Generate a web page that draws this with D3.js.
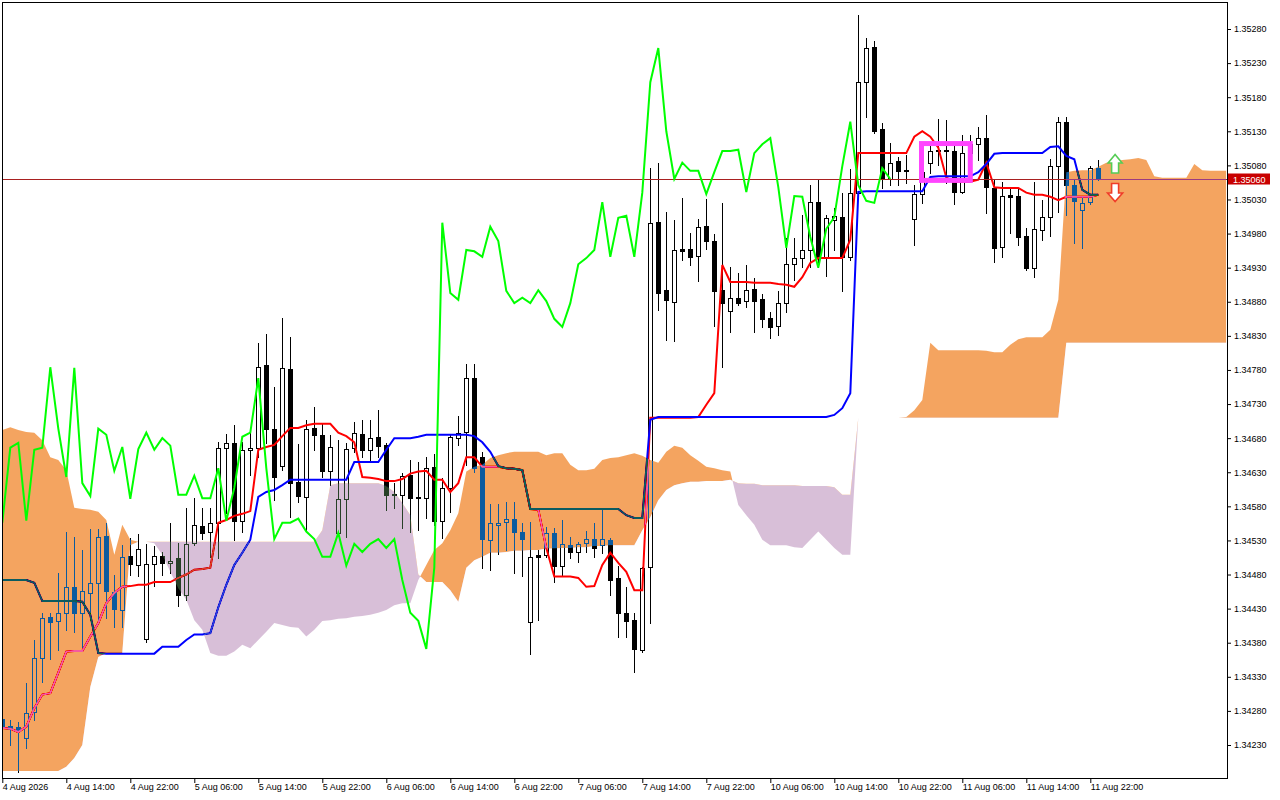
<!DOCTYPE html>
<html><head><meta charset="utf-8">
<script src="https://cdn.jsdelivr.net/npm/d3@7"></script>
<style>
html,body{margin:0;padding:0;background:#fff;}
svg{display:block;}
</style>
</head><body>
<svg id="c" width="1280" height="800"></svg>
<script>
// ---------- DATA (H1 candles) ----------
const openP=[
1.34268,1.34258,1.34257,1.34240,1.34279,1.34358,1.34418,1.34412,1.34424,1.34462,
1.34424,1.34453,1.34468,1.34537,1.34455,1.34428,1.34507,1.34494,1.34386,1.34496,
1.34507,1.34497,1.34504,1.34450,1.34526,1.34551,1.34543,1.34556,1.34666,1.34673,
1.34559,1.34663,1.34666,1.34787,1.34694,1.34639,1.34781,1.34616,1.34594,1.34695,
1.34685,1.34632,1.34541,1.34591,1.34666,1.34686,1.34663,1.34682,1.34670,1.34598,
1.34597,1.34626,1.34594,1.34592,1.34638,1.34559,1.34607,1.34680,1.34689,1.34768,
1.34652,1.34531,1.34553,1.34557,1.34562,1.34543,1.34411,1.34509,1.34509,1.34541,
1.34493,1.34523,1.34513,1.34526,1.34532,1.34523,1.34531,1.34475,1.34424,1.34413,
1.34369,1.34491,1.34997,1.34897,1.34880,1.34957,1.34957,1.34947,1.34991,1.34969,
1.34897,1.34867,1.34886,1.34881,1.34899,1.34884,1.34856,1.34845,1.34878,1.34935,
1.34944,1.34956,1.35026,1.34946,1.35000,1.35004,1.34946,1.35040,1.35202,1.35254,
1.35133,1.35060,1.35086,1.35073,1.35001,1.35038,1.35084,1.35103,1.35101,1.35101,
1.35041,1.35098,1.35111,1.35120,1.35047,1.34960,1.35037,1.35035,1.34977,1.34930,
1.34985,1.35004,1.35079,1.35144,1.35051,1.35015,1.35026,1.35076];
const highP=[
1.34274,1.34267,1.34264,1.34321,1.34384,1.34424,1.34424,1.34482,1.34543,1.34535,
1.34516,1.34547,1.34547,1.34556,1.34480,1.34523,1.34534,1.34540,1.34525,1.34522,
1.34513,1.34556,1.34526,1.34578,1.34592,1.34578,1.34578,1.34674,1.34686,1.34699,
1.34674,1.34689,1.34820,1.34833,1.34755,1.34856,1.34828,1.34671,1.34707,1.34726,
1.34702,1.34685,1.34677,1.34673,1.34704,1.34707,1.34707,1.34721,1.34673,1.34614,
1.34629,1.34648,1.34645,1.34652,1.34657,1.34622,1.34685,1.34713,1.34789,1.34789,
1.34660,1.34584,1.34584,1.34587,1.34587,1.34556,1.34557,1.34516,1.34550,1.34548,
1.34560,1.34535,1.34528,1.34544,1.34556,1.34575,1.34534,1.34493,1.34462,1.34424,
1.34491,1.35076,1.35084,1.35012,1.35000,1.35032,1.34981,1.35001,1.35031,1.34979,
1.35025,1.34931,1.34922,1.34934,1.34915,1.34891,1.34865,1.34896,1.34974,1.34974,
1.35007,1.35051,1.35060,1.35007,1.35018,1.35040,1.35075,1.35301,1.35267,1.35262,
1.35142,1.35113,1.35092,1.35095,1.35051,1.35072,1.35108,1.35148,1.35147,1.35113,
1.35125,1.35125,1.35136,1.35154,1.35059,1.35056,1.35047,1.35047,1.34988,1.35056,
1.35029,1.35089,1.35151,1.35151,1.35059,1.35034,1.35079,1.35088];
const lowP=[
1.34248,1.34230,1.34191,1.34226,1.34267,1.34323,1.34356,1.34369,1.34399,1.34396,
1.34374,1.34413,1.34413,1.34416,1.34403,1.34403,1.34480,1.34478,1.34381,1.34463,
1.34480,1.34482,1.34434,1.34443,1.34523,1.34532,1.34506,1.34504,1.34570,1.34531,
1.34543,1.34626,1.34652,1.34673,1.34589,1.34633,1.34564,1.34587,1.34545,1.34663,
1.34623,1.34611,1.34538,1.34535,1.34660,1.34652,1.34648,1.34652,1.34575,1.34578,
1.34548,1.34543,1.34545,1.34563,1.34553,1.34534,1.34572,1.34670,1.34641,1.34631,
1.34490,1.34487,1.34510,1.34516,1.34482,1.34478,1.34364,1.34413,1.34506,1.34469,
1.34480,1.34504,1.34499,1.34513,1.34506,1.34512,1.34450,1.34389,1.34389,1.34337,
1.34367,1.34409,1.34868,1.34824,1.34823,1.34941,1.34934,1.34911,1.34957,1.34845,
1.34784,1.34836,1.34875,1.34872,1.34836,1.34843,1.34827,1.34831,1.34865,1.34912,
1.34931,1.34931,1.34931,1.34918,1.34956,1.34896,1.34941,1.35034,1.35151,1.35128,
1.35047,1.35051,1.35051,1.35054,1.34963,1.35025,1.35069,1.35081,1.35054,1.35023,
1.35040,1.35066,1.35088,1.35010,1.34938,1.34946,1.34981,1.34963,1.34927,1.34916,
1.34971,1.34977,1.35012,1.35007,1.34966,1.34959,1.35023,1.35059];
const closeP=[
1.34257,1.34254,1.34251,1.34277,1.34358,1.34416,1.34411,1.34424,1.34462,1.34424,
1.34456,1.34468,1.34535,1.34456,1.34430,1.34506,1.34496,1.34518,1.34496,1.34507,
1.34497,1.34500,1.34450,1.34525,1.34553,1.34541,1.34556,1.34666,1.34673,1.34559,
1.34663,1.34666,1.34784,1.34694,1.34623,1.34783,1.34614,1.34595,1.34694,1.34685,
1.34632,1.34667,1.34591,1.34664,1.34688,1.34663,1.34680,1.34669,1.34597,1.34597,
1.34625,1.34592,1.34592,1.34636,1.34559,1.34607,1.34682,1.34688,1.34768,1.34636,
1.34532,1.34556,1.34556,1.34562,1.34543,1.34532,1.34506,1.34506,1.34541,1.34493,
1.34525,1.34513,1.34525,1.34532,1.34519,1.34532,1.34472,1.34424,1.34412,1.34371,
1.34490,1.34996,1.34893,1.34883,1.34956,1.34954,1.34946,1.34990,1.34969,1.34896,
1.34878,1.34886,1.34878,1.34897,1.34881,1.34855,1.34843,1.34878,1.34935,1.34944,
1.34956,1.35026,1.34946,1.35003,1.35006,1.34946,1.35040,1.35202,1.35252,1.35130,
1.35060,1.35084,1.35072,1.35072,1.35038,1.35070,1.35101,1.35101,1.35103,1.35041,
1.35098,1.35111,1.35120,1.35048,1.34959,1.35035,1.35034,1.34975,1.34930,1.34987,
1.35004,1.35079,1.35144,1.35051,1.35028,1.35025,1.35076,1.35060];
const tenkan=[
1.34255,1.34254,1.34249,1.34257,1.34284,1.34304,1.34306,1.34336,1.34367,1.34368,
1.34368,1.34389,1.34409,1.34438,1.34453,1.34462,1.34463,1.34465,1.34465,1.34469,
1.34469,1.34469,1.34475,1.34480,1.34487,1.34488,1.34490,1.34556,1.34560,1.34566,
1.34569,1.34573,1.34663,1.34667,1.34670,1.34683,1.34695,1.34695,1.34699,1.34701,
1.34701,1.34701,1.34688,1.34683,1.34674,1.34623,1.34622,1.34620,1.34617,1.34617,
1.34620,1.34628,1.34631,1.34632,1.34619,1.34619,1.34601,1.34614,1.34652,1.34652,
1.34638,1.34638,1.34638,1.34636,1.34635,1.34633,1.34576,1.34575,1.34519,1.34477,
1.34477,1.34477,1.34475,1.34462,1.34463,1.34494,1.34512,1.34497,1.34484,1.34457,
1.34457,1.34710,1.34710,1.34710,1.34710,1.34710,1.34710,1.34711,1.34729,1.34746,
1.34934,1.34909,1.34909,1.34909,1.34908,1.34908,1.34908,1.34906,1.34905,1.34902,
1.34916,1.34937,1.34944,1.34944,1.34944,1.34944,1.34971,1.35098,1.35098,1.35098,
1.35098,1.35098,1.35098,1.35098,1.35122,1.35130,1.35122,1.35106,1.35062,1.35056,
1.35056,1.35056,1.35059,1.35084,1.35048,1.35047,1.35047,1.35047,1.35040,1.35037,
1.35037,1.35034,1.35029,1.35034,1.35034,1.35034,1.35034,1.35037];
const kijun=[
1.34472,1.34472,1.34472,1.34472,1.34468,1.34441,1.34441,1.34441,1.34441,1.34441,
1.34440,1.34421,1.34365,1.34364,1.34364,1.34364,1.34364,1.34364,1.34364,1.34364,
1.34374,1.34374,1.34374,1.34384,1.34392,1.34392,1.34394,1.34432,1.34465,1.34494,
1.34512,1.34531,1.34594,1.34601,1.34604,1.34611,1.34619,1.34619,1.34619,1.34619,
1.34619,1.34619,1.34619,1.34619,1.34645,1.34645,1.34645,1.34645,1.34663,1.34680,
1.34680,1.34680,1.34682,1.34685,1.34685,1.34685,1.34685,1.34685,1.34685,1.34683,
1.34674,1.34660,1.34639,1.34636,1.34635,1.34633,1.34576,1.34576,1.34576,1.34576,
1.34576,1.34576,1.34576,1.34576,1.34576,1.34576,1.34576,1.34576,1.34567,1.34563,
1.34563,1.34707,1.34711,1.34711,1.34711,1.34711,1.34711,1.34711,1.34711,1.34711,
1.34711,1.34711,1.34711,1.34711,1.34711,1.34711,1.34711,1.34711,1.34711,1.34711,
1.34711,1.34711,1.34711,1.34711,1.34714,1.34724,1.34746,1.35041,1.35042,1.35042,
1.35042,1.35042,1.35042,1.35042,1.35042,1.35042,1.35063,1.35064,1.35064,1.35064,
1.35064,1.35064,1.35070,1.35082,1.35097,1.35098,1.35098,1.35098,1.35098,1.35098,
1.35098,1.35107,1.35108,1.35094,1.35089,1.35044,1.35037,1.35037];
const senkouA=[
1.34692,1.34696,1.34692,1.34689,1.34688,1.34677,1.34652,1.34648,1.34633,1.34578,
1.34576,1.34575,1.34572,1.34560,1.34509,1.34553,1.34531,1.34528,1.34528,1.34526,
1.34509,1.34484,1.34460,1.34443,1.34413,1.34399,1.34365,1.34361,1.34361,1.34367,
1.34377,1.34372,1.34384,1.34396,1.34409,1.34406,1.34403,1.34402,1.34389,1.34399,
1.34412,1.34413,1.34415,1.34416,1.34418,1.34419,1.34421,1.34424,1.34428,1.34435,
1.34438,1.34438,1.34472,1.34494,1.34516,1.34526,1.34545,1.34570,1.34631,1.34638,
1.34641,1.34651,1.34655,1.34658,1.34660,1.34660,1.34660,1.34660,1.34655,1.34658,
1.34658,1.34641,1.34633,1.34633,1.34635,1.34648,1.34651,1.34652,1.34655,1.34658,
1.34654,1.34648,1.34644,1.34660,1.34669,1.34666,1.34655,1.34647,1.34638,1.34636,
1.34633,1.34631,1.34582,1.34567,1.34553,1.34531,1.34523,1.34523,1.34523,1.34520,
1.34519,1.34531,1.34543,1.34531,1.34519,1.34509,1.34509,1.34710,1.34710,1.34710,
1.34710,1.34710,1.34710,1.34711,1.34721,1.34736,1.34820,1.34809,1.34809,1.34809,
1.34809,1.34809,1.34809,1.34808,1.34806,1.34806,1.34817,1.34825,1.34828,1.34828,
1.34828,1.34839,1.34883,1.35070,1.35072,1.35073,1.35073,1.35078,1.35084,1.35086,
1.35088,1.35089,1.35091,1.35088,1.35064,1.35062,1.35062,1.35062,1.35062,1.35082,
1.35073,1.35072,1.35072,1.35072];
const senkouB=[
1.34192,1.34192,1.34192,1.34192,1.34192,1.34192,1.34192,1.34192,1.34198,1.34211,
1.34230,1.34315,1.34359,1.34365,1.34365,1.34365,1.34523,1.34528,1.34528,1.34528,
1.34528,1.34528,1.34528,1.34528,1.34528,1.34528,1.34528,1.34528,1.34528,1.34528,
1.34528,1.34528,1.34528,1.34528,1.34528,1.34528,1.34528,1.34528,1.34528,1.34528,
1.34545,1.34611,1.34614,1.34614,1.34614,1.34614,1.34614,1.34614,1.34610,1.34601,
1.34585,1.34567,1.34480,1.34469,1.34469,1.34469,1.34457,1.34440,1.34490,1.34501,
1.34506,1.34512,1.34512,1.34513,1.34515,1.34515,1.34516,1.34516,1.34518,1.34518,
1.34519,1.34519,1.34520,1.34520,1.34522,1.34522,1.34523,1.34523,1.34523,1.34523,
1.34545,1.34564,1.34589,1.34604,1.34611,1.34614,1.34616,1.34616,1.34617,1.34617,
1.34617,1.34619,1.34614,1.34613,1.34613,1.34611,1.34611,1.34611,1.34611,1.34611,
1.34610,1.34610,1.34610,1.34610,1.34608,1.34597,1.34597,1.34710,1.34710,1.34710,
1.34710,1.34710,1.34710,1.34710,1.34710,1.34710,1.34710,1.34710,1.34710,1.34710,
1.34710,1.34710,1.34710,1.34710,1.34710,1.34710,1.34710,1.34710,1.34710,1.34710,
1.34710,1.34710,1.34710,1.34820,1.34820,1.34820,1.34820,1.34820,1.34820,1.34820,
1.34820,1.34820,1.34820,1.34820,1.34820,1.34820,1.34820,1.34820,1.34820,1.34820,
1.34820,1.34820,1.34820,1.34820];
const chikouShift=26;
const priceTicks=[1.35280,1.35230,1.35180,1.35130,1.35080,1.35030,1.34980,1.34930,1.34880,1.34830,1.34780,
1.34730,1.34680,1.34630,1.34580,1.34530,1.34480,1.34430,1.34380,1.34330,1.34280,1.34230];
const timeTickIdx=[0,8,16,24,32,40,48,56,64,72,80,88,96,104,112,120,128,136];
const timeLabels=["4 Aug 2026","4 Aug 14:00","4 Aug 22:00","5 Aug 06:00","5 Aug 14:00","5 Aug 22:00",
"6 Aug 06:00","6 Aug 14:00","6 Aug 22:00","7 Aug 06:00","7 Aug 14:00","7 Aug 22:00",
"10 Aug 06:00","10 Aug 14:00","10 Aug 22:00","11 Aug 06:00","11 Aug 14:00","11 Aug 22:00"];
const lastPrice=1.35060;
const boxRange={i0:114.9, i1:121.0, p0:1.35112, p1:1.35058};

// ---------- DRAW ----------
const svg=d3.select('#c');
const FONT='"Liberation Sans", Arial, sans-serif';
const L=2,T=2,R=1227,B=778;
const x=d3.scaleLinear().domain([0,153]).range([2.3,2.3+8*153]);
const y=d3.scaleLinear().domain([1.34230,1.35280]).range([745,29]);
const px=i=>Math.round(x(i));
const py=v=>Math.round(y(v));

svg.append('rect').attr('width',1280).attr('height',800).attr('fill','#fff');
const defs=svg.append('defs');
defs.append('clipPath').attr('id','plotClip').append('rect').attr('x',L).attr('y',T).attr('width',R-L).attr('height',B-T);

const plot=svg.append('g').attr('clip-path','url(#plotClip)');
plot.append('rect').attr('x',0).attr('y',0).attr('width',1280).attr('height',800).attr('fill','#fff');

// candles
const candles=openP.map((o,i)=>({i,o,h:highP[i],l:lowP[i],c:closeP[i]}));
const cg=plot.append('g').attr('shape-rendering','crispEdges');
cg.selectAll('line.wick').data(candles).join('line').attr('class','wick')
  .attr('x1',d=>px(d.i)+0.5).attr('x2',d=>px(d.i)+0.5)
  .attr('y1',d=>py(d.h)).attr('y2',d=>py(d.l)+1)
  .attr('stroke','#000').attr('stroke-width',1);
cg.selectAll('rect.body').data(candles).join('rect').attr('class','body')
  .attr('x',d=>px(d.i)-1.5).attr('width',4)
  .attr('y',d=>py(Math.max(d.o,d.c))+0.5)
  .attr('height',d=>Math.max(py(Math.min(d.o,d.c))-py(Math.max(d.o,d.c)),0))
  .attr('fill',d=>d.c<d.o?'#000':'#fff').attr('stroke','#000').attr('stroke-width',1);

const line=arr=>d3.line().x((d,i)=>x(i)).y(d=>y(d))(arr);
plot.append('path').attr('d',line(tenkan)).attr('fill','none').attr('stroke','#ff0000').attr('stroke-width',2);
plot.append('path').attr('d',line(kijun)).attr('fill','none').attr('stroke','#0000ff').attr('stroke-width',2);

// bid line
plot.append('line').attr('x1',L).attr('x2',R).attr('y1',py(lastPrice)+0.5).attr('y2',py(lastPrice)+0.5)
  .attr('stroke','#a82020').attr('stroke-width',1).attr('shape-rendering','crispEdges');

// cloud (XOR-like rendering via difference blend)
const band=d3.area().x((d,i)=>x(i)).y0((d,i)=>y(senkouA[i])).y1((d,i)=>y(senkouB[i]));
const above=d3.area().x((d,i)=>x(i)).y0(0).y1((d,i)=>y(senkouB[i]));
const below=d3.area().x((d,i)=>x(i)).y0((d,i)=>y(senkouB[i])).y1(800);
defs.append('clipPath').attr('id','aboveB').append('path').attr('d',above(senkouA));
defs.append('clipPath').attr('id','belowB').append('path').attr('d',below(senkouA));
plot.append('g').attr('clip-path','url(#aboveB)').style('mix-blend-mode','difference')
  .append('path').attr('d',band(senkouA)).attr('fill','#0b5b9f');
plot.append('g').attr('clip-path','url(#belowB)').style('mix-blend-mode','difference')
  .append('path').attr('d',band(senkouA)).attr('fill','#274027');

// chikou span
const chikou=closeP.slice(chikouShift);
plot.append('path').attr('d',line(chikou)).attr('fill','none').attr('stroke','#00ff00').attr('stroke-width',2);

// magenta box
plot.append('rect').attr('x',x(boxRange.i0)).attr('y',y(boxRange.p0))
  .attr('width',x(boxRange.i1)-x(boxRange.i0)).attr('height',y(boxRange.p1)-y(boxRange.p0))
  .attr('fill','none').attr('stroke','#ff44ff').attr('stroke-width',5);

// arrows
const ax=x(139.1);
plot.append('path').attr('d',`M${ax-3.5},173 L${ax+3.5},173 L${ax+3.5},163 L${ax+7},163 L${ax},154.5 L${ax-7},163 L${ax-3.5},163 Z`)
  .attr('fill','#fff').attr('stroke','#55cc55').attr('stroke-width',1.6);
plot.append('path').attr('d',`M${ax-3.5},183.5 L${ax+3.5},183.5 L${ax+3.5},193 L${ax+7.5},193 L${ax},201.5 L${ax-7.5},193 L${ax-3.5},193 Z`)
  .attr('fill','#fff').attr('stroke','#f03c28').attr('stroke-width',1.6);

// frame
svg.append('rect').attr('x',L+0.5).attr('y',T+0.5).attr('width',R-L).attr('height',B-T)
  .attr('fill','none').attr('stroke','#000').attr('stroke-width',1).attr('shape-rendering','crispEdges');

// price axis
const yAxis=d3.axisRight(y).tickValues(priceTicks).tickSize(4).tickPadding(3).tickFormat(d3.format('.5f'));
const yg=svg.append('g').attr('transform',`translate(${R},0)`).call(yAxis);
yg.select('.domain').remove();
yg.selectAll('text').attr('font-family',FONT).attr('font-size',9).attr('fill','#000');
yg.attr('font-family',FONT).attr('font-size',9);

// time axis
const xAxis=d3.axisBottom(x).tickValues(timeTickIdx).tickSize(5).tickFormat((d,i)=>timeLabels[i]);
const xg=svg.append('g').attr('transform',`translate(0,${B})`).call(xAxis);
xg.select('.domain').remove();
xg.selectAll('text').attr('font-family',FONT).attr('font-size',9).attr('fill','#000')
  .attr('text-anchor','start').attr('x',0).attr('y',6);

// last price label
const lp=py(lastPrice);
svg.append('rect').attr('x',R+1).attr('y',lp-5.5).attr('width',42).attr('height',11).attr('fill','#c80000');
svg.append('text').attr('x',R+6).attr('y',lp+3.5).attr('font-family',FONT).attr('font-size',9)
  .attr('fill','#fff').text(d3.format('.5f')(lastPrice));
</script>
</body></html>
